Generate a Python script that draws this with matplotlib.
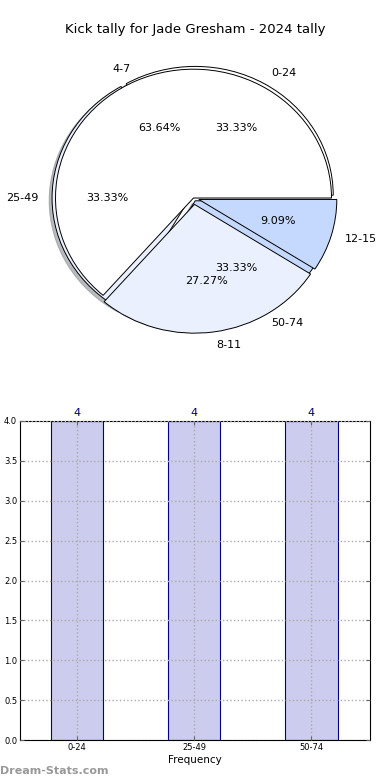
import matplotlib
matplotlib.use("Agg")
import matplotlib.pyplot as plt

title = "Kick tally for Jade Gresham - 2024 tally"
pie1_labels = ["0-24", "25-49", "50-74"]
pie1_values = [4, 4, 4]
pie2_labels = ["4-7", "8-11", "12-15"]
pie2_values = [7, 3, 1]
bar_labels = ["0-24", "25-49", "50-74"]
bar_values = [4, 4, 4]

colors = ["#ffffff", "#eaf0fd", "#c5d8fd"]

fig = plt.figure(figsize=(3.9, 7.8), dpi=100)

ax1 = fig.add_axes([21/390, 1 - 359/780, 345/390, 322/780])
ax1.pie(pie1_values, labels=pie1_labels, colors=colors, autopct="%.2f%%",
        explode=[0.025, 0.025, 0.025],
        shadow={"ox": -0.015, "oy": -0.015, "shade": 0.5}, startangle=0,
        wedgeprops=dict(edgecolor="black", linewidth=0.7),
        textprops=dict(fontsize=8))
ax1.pie(pie2_values, labels=pie2_labels, colors=colors, autopct="%.2f%%",
        explode=[0.0, 0.05, 0.04], shadow=False, startangle=0,
        wedgeprops=dict(edgecolor="black", linewidth=0.7),
        textprops=dict(fontsize=8))
ax1.set_aspect("auto")
ax1.set_xlim(-1.25, 1.25)
ax1.set_ylim(-1.25, 1.25)
fig.text(0.5, 1 - 30/780, title, ha="center", va="center", fontsize=9.5)

ax2 = fig.add_axes([20/390, 1 - 740/780, 350/390, 319/780])
x = list(range(len(bar_labels)))
bars = ax2.bar(x, bar_values, width=0.445, color="#ccccee", edgecolor="navy",
               linewidth=0.8, zorder=2)
for xi, v in zip(x, bar_values):
    ax2.text(xi, v + 0.04, str(v), ha="center", va="bottom", color="navy", fontsize=8)
ax2.set_xlim(-0.49, 2.5)
ax2.set_ylim(0, 4.0)
ax2.set_xticks(x)
ax2.set_xticklabels(bar_labels, fontsize=6)
ax2.set_yticks([i * 0.5 for i in range(9)])
ax2.set_yticklabels([f"{i*0.5:.1f}" for i in range(9)], fontsize=6)
ax2.tick_params(direction="in", top=True, right=True, length=3, pad=2, color="#666666")
ax2.grid(True, linestyle=":", color="#aaaaaa", linewidth=1.0, zorder=3)
ax2.set_axisbelow(False)
ax2.set_xlabel("Frequency", fontsize=7.5, labelpad=2)
fig.text(0.0, 1 - 771/780, "Dream-Stats.com", ha="left", va="center",
         fontsize=8, color="#999999", fontweight="bold")

fig.savefig("out.png", dpi=100)
